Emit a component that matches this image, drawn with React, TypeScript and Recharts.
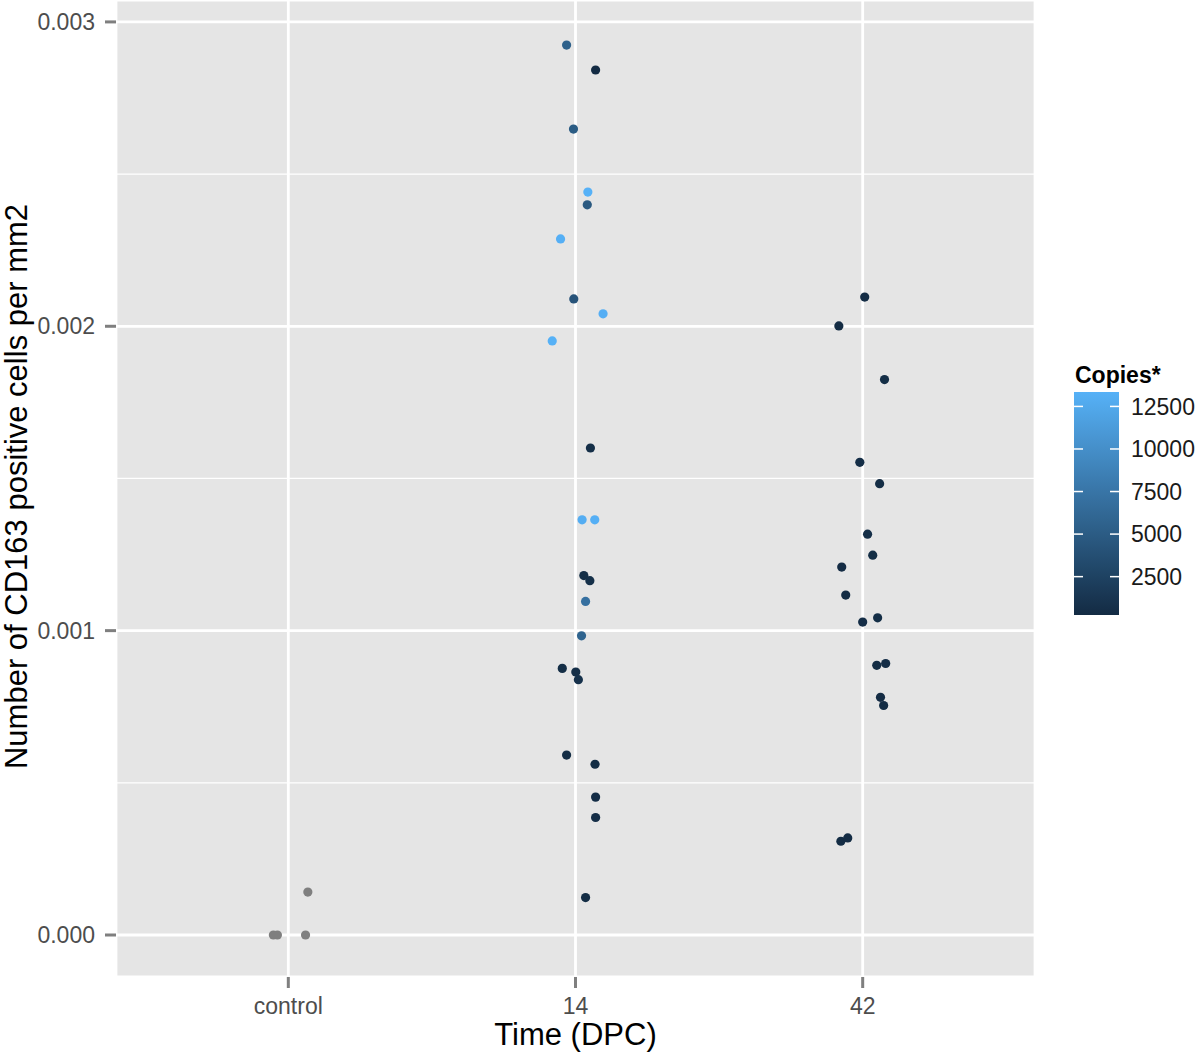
import { ScatterChart, Scatter, XAxis, YAxis, CartesianGrid, ReferenceLine } from 'recharts';

const groupLabels = ['control', '14', '42'];
const yTicks = [0, 0.001, 0.002, 0.003];
const yMinorTicks = [0.0005, 0.0015, 0.0025];
const copiesTicks = [2500, 5000, 7500, 10000, 12500];
const copiesRange = [247, 13347];

// control animals: no copies measured (NA -> grey)
const controlX = [0.948, 0.962, 1.06, 1.068];
const controlY = [0, 0, 0, 0.000141];

// 14 DPC
const dpc14X = [1.969, 2.07, 1.993, 2.043, 2.041, 1.948, 1.994, 2.096, 1.919, 2.052, 2.023, 2.067,
  2.029, 2.05, 2.035, 2.021, 1.954, 2.001, 2.01, 1.969, 2.068, 2.07, 2.07, 2.035];
const dpc14Y = [0.002924, 0.002842, 0.002648, 0.002441, 0.002399, 0.002287, 0.00209, 0.002041, 0.001952,
  0.0016, 0.001364, 0.001364, 0.001181, 0.001164, 0.001096, 0.000983, 0.000876, 0.000864, 0.000839,
  0.000591, 0.000561, 0.000453, 0.000386, 0.000123];
const dpc14Copies = [5500, 247, 5000, 13347, 4700, 13200, 4200, 13100, 13300, 600, 13000, 13200,
  500, 700, 7000, 5800, 500, 600, 800, 400, 500, 450, 550, 400];

// 42 DPC
const dpc42X = [3.007, 2.917, 3.076, 2.99, 3.059, 3.017, 3.035, 2.927, 2.941, 3.0, 3.052, 3.049, 3.08,
  3.062, 3.073, 2.924, 2.948];
const dpc42Y = [0.002096, 0.002001, 0.001825, 0.001553, 0.001483, 0.001317, 0.001248, 0.001209, 0.001117,
  0.001028, 0.001042, 0.000886, 0.000892, 0.000781, 0.000754, 0.000308, 0.000319];
const dpc42Copies = [400, 350, 500, 450, 400, 600, 500, 350, 400, 450, 500, 400, 450, 350, 400, 300, 350];

const points = [
  ...controlX.map((x, i) => ({ x, y: controlY[i], copies: null as number | null })),
  ...dpc14X.map((x, i) => ({ x, y: dpc14Y[i], copies: dpc14Copies[i] as number | null })),
  ...dpc42X.map((x, i) => ({ x, y: dpc42Y[i], copies: dpc42Copies[i] as number | null })),
];

const FONT = '"Liberation Sans", Arial, sans-serif';
const LOW = [0x13, 0x2b, 0x43];
const HIGH = [0x56, 0xb1, 0xf7];

const copiesColor = (c: number | null) => {
  if (c == null) return '#7F7F7F';
  const t = Math.max(0, Math.min(1, (c - copiesRange[0]) / (copiesRange[1] - copiesRange[0])));
  const ch = LOW.map((l, i) => Math.round(l + (HIGH[i] - l) * t));
  return `rgb(${ch[0]},${ch[1]},${ch[2]})`;
};

const Dot = (props: any) => {
  if (props.cx == null || props.cy == null) return null;
  return <circle cx={props.cx} cy={props.cy} r={4.6} fill={copiesColor(props.payload.copies)} />;
};

const YTitle = (props: any) => {
  const vb = props.viewBox || { y: 0, height: 977 };
  const cy = vb.y + vb.height / 2 - 2;
  return (
    <text transform={`translate(27, ${cy}) rotate(-90)`} textAnchor="middle" fontSize={31} fontFamily={FONT} fill="#000">
      Number of CD163 positive cells per mm2
    </text>
  );
};

const ColourBar = () => {
  const barTop = 392;
  const barBottom = 615;
  const left = 1074;
  const w = 45;
  const yOf = (c: number) => barBottom - ((c - copiesRange[0]) / (copiesRange[1] - copiesRange[0])) * (barBottom - barTop);
  const stops = Array.from({ length: 11 }, (_, i) => i / 10);
  return (
    <svg width={1200} height={1055} style={{ position: 'absolute', left: 0, top: 0, pointerEvents: 'none' }}>
      <defs>
        <linearGradient id="copiesGrad" x1="0" y1="1" x2="0" y2="0">
          {stops.map((s) => (
            <stop key={s} offset={s} stopColor={copiesColor(copiesRange[0] + s * (copiesRange[1] - copiesRange[0]))} />
          ))}
        </linearGradient>
      </defs>
      <text x={1075} y={383} fontSize={23} fontWeight="bold" fontFamily={FONT} fill="#000">Copies*</text>
      <rect x={left} y={barTop} width={w} height={barBottom - barTop} fill="url(#copiesGrad)" />
      {copiesTicks.map((c) => (
        <g key={c}>
          <line x1={left} x2={left + 9} y1={yOf(c)} y2={yOf(c)} stroke="#fff" strokeWidth={1.5} />
          <line x1={left + w - 9} x2={left + w} y1={yOf(c)} y2={yOf(c)} stroke="#fff" strokeWidth={1.5} />
          <text x={1131} y={yOf(c)} dy="0.36em" fontSize={23} fontFamily={FONT} fill="#1A1A1A">{c}</text>
        </g>
      ))}
    </svg>
  );
};

export default function App() {
  return (
    <div style={{ position: 'absolute', left: 0, top: 0, width: 1200, height: 1055, background: '#fff' }}>
      <ScatterChart width={1200} height={1055} margin={{ top: 0, right: 165, bottom: 0, left: 0 }}>
        <CartesianGrid fill="#E5E5E5" stroke="#FFFFFF" strokeWidth={2.8} />
        {yMinorTicks.map((v) => (
          <ReferenceLine key={v} y={v} stroke="#FFFFFF" strokeWidth={1.2} />
        ))}
        <XAxis
          type="number"
          dataKey="x"
          domain={[0.4, 3.6]}
          ticks={[1, 2, 3]}
          allowDataOverflow
          tickFormatter={(v: number) => groupLabels[Math.round(v) - 1]}
          height={78}
          axisLine={false}
          tickLine={{ stroke: '#7F7F7F', strokeWidth: 3 }}
          tickSize={11}
          tickMargin={10}
          tick={{ fill: '#4D4D4D', fontSize: 23, fontFamily: FONT }}
          label={{ value: 'Time (DPC)', position: 'insideBottom', offset: 10, fill: '#000', fontSize: 31, fontFamily: FONT }}
        />
        <YAxis
          type="number"
          dataKey="y"
          domain={[-0.000138, 0.003072]}
          ticks={yTicks}
          allowDataOverflow
          tickFormatter={(v: number) => v.toFixed(3)}
          width={116}
          axisLine={false}
          tickLine={{ stroke: '#7F7F7F', strokeWidth: 3 }}
          tickSize={11}
          tickMargin={10}
          tick={{ fill: '#4D4D4D', fontSize: 23, fontFamily: FONT }}
          label={YTitle}
        />
        <Scatter data={points} shape={Dot} isAnimationActive={false} />
      </ScatterChart>
      <ColourBar />
    </div>
  );
}
